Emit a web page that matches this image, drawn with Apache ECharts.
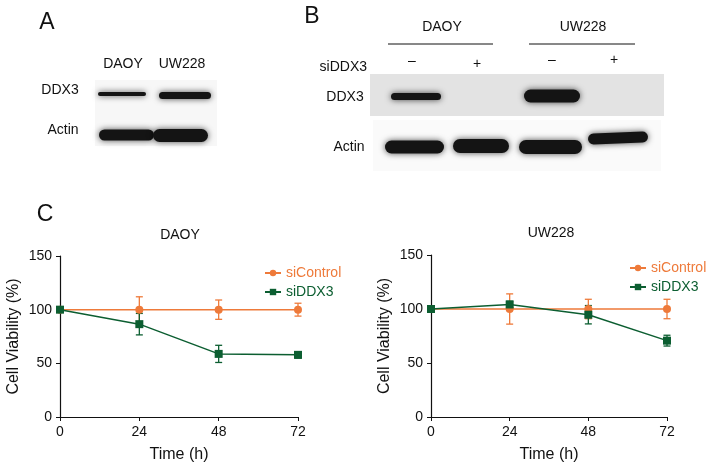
<!DOCTYPE html>
<html>
<head>
<meta charset="utf-8">
<script src="https://cdn.jsdelivr.net/npm/echarts@6/dist/echarts.min.js"></script>
<style>
  html, body { margin: 0; padding: 0; background: #fff; }
  #main { width: 712px; height: 464px; }
</style>
</head>
<body>
<div id="main"></div>
<script>
// time points (h)
const timePoints = [0, 24, 48, 72];
// DAOY viability (%)
const daoyCtrl = [100, 100, 100, 100];
const daoyCtrlErr = [0, 12, 9, 6];
const daoySi = [100, 86.5, 58.8, 57.9];
const daoySiErr = [0, 10, 8, 3];
// UW228 viability (%)
const uwCtrl = [100, 100, 100, 100];
const uwCtrlErr = [0, 14, 9, 9];
const uwSi = [100, 104.2, 94.7, 70.7];
const uwSiErr = [0, 3, 8.5, 5];
const yTicks = [0, 50, 100, 150];

const orange = "#ee7a3a";
const green = "#0c5e31";
const font = "Liberation Sans, Arial, sans-serif";

function pts(vals) {
  return timePoints.map((t, i) => [t, vals[i]]);
}
function errPts(vals, errs) {
  return timePoints.map((t, i) => [t, vals[i] - errs[i], vals[i] + errs[i]]);
}
function errSeries(name, vals, errs, idx, color) {
  return {
    type: "custom",
    name: name,
    xAxisIndex: idx,
    yAxisIndex: idx,
    data: errPts(vals, errs),
    z: 1,
    silent: true,
    renderItem: function (params, api) {
      const lo = api.coord([api.value(0), api.value(1)]);
      const hi = api.coord([api.value(0), api.value(2)]);
      const w = 3.5;
      const st = { stroke: color, lineWidth: 1.3 };
      return {
        type: "group",
        children: [
          { type: "line", shape: { x1: lo[0], y1: lo[1], x2: hi[0], y2: hi[1] }, style: st },
          { type: "line", shape: { x1: lo[0] - w, y1: lo[1], x2: lo[0] + w, y2: lo[1] }, style: st },
          { type: "line", shape: { x1: hi[0] - w, y1: hi[1], x2: hi[0] + w, y2: hi[1] }, style: st },
        ],
      };
    },
  };
}
function lineSeries(name, vals, idx, color, symbol) {
  return {
    type: "line",
    name: name,
    xAxisIndex: idx,
    yAxisIndex: idx,
    data: pts(vals),
    symbol: symbol,
    symbolSize: 8,
    z: 3,
    lineStyle: { color: color, width: 1.5 },
    itemStyle: { color: color },
  };
}
function xAxisCfg(idx) {
  return {
    type: "value",
    gridIndex: idx,
    min: 0,
    max: 72,
    interval: 24,
    name: "Time (h)",
    nameLocation: "middle",
    nameGap: 30,
    nameTextStyle: { fontFamily: font, fontSize: 16, color: "#111" },
    axisLine: { lineStyle: { color: "#111", width: 1.2 } },
    axisTick: { length: 4, lineStyle: { color: "#111" } },
    axisLabel: { fontFamily: font, fontSize: 14, color: "#111", margin: 8 },
    splitLine: { show: false },
  };
}
function yAxisCfg(idx) {
  return {
    type: "value",
    gridIndex: idx,
    min: yTicks[0],
    max: yTicks[yTicks.length - 1],
    interval: 50,
    name: "Cell Viability (%)",
    nameLocation: "middle",
    nameGap: 38,
    nameTextStyle: { fontFamily: font, fontSize: 16, color: "#111" },
    axisLine: { show: true, lineStyle: { color: "#111", width: 1.2 } },
    axisTick: { show: true, length: 4, lineStyle: { color: "#111" } },
    axisLabel: { fontFamily: font, fontSize: 14, color: "#111", margin: 8 },
    splitLine: { show: false },
  };
}
function legendCfg(idx, left, top) {
  return {
    orient: "vertical",
    left: left,
    top: top,
    itemWidth: 16,
    itemHeight: 8,
    itemGap: 5,
    data: [
      { name: "siControl" + idx, textStyle: { color: orange } },
      { name: "siDDX3" + idx, textStyle: { color: green } },
    ],
    formatter: (n) => n.replace(/\d$/, ""),
    textStyle: { fontFamily: font, fontSize: 14 },
    selectedMode: false,
  };
}

// western blot band helper
function band(x, y, w, h, rot) {
  return {
    type: "rect",
    shape: { x: x, y: y - h / 2, width: w, height: h, r: h / 2 },
    rotation: rot || 0,
    originX: x + w / 2,
    originY: y,
    style: { fill: "#141414", shadowBlur: 6, shadowColor: "rgba(0,0,0,0.7)" },
    silent: true,
  };
}
function txt(x, y, s, size, align) {
  return {
    type: "text",
    x: x,
    y: y,
    style: {
      text: s,
      fontFamily: font,
      fontSize: size,
      fill: "#111",
      align: align || "center",
      verticalAlign: "middle",
    },
    silent: true,
  };
}

const blots = [
  // panel A
  txt(47, 23, "A", 23),
  txt(123, 64, "DAOY", 14),
  txt(182, 64, "UW228", 14),
  txt(60, 90, "DDX3", 14),
  txt(63, 130, "Actin", 14),
  {
    type: "rect",
    shape: { x: 95, y: 80, width: 122, height: 66 },
    style: { fill: "#f7f7f7" },
    silent: true,
  },
  band(98, 94, 48, 4),
  band(159, 95.5, 52, 7),
  band(99, 135, 55, 11),
  band(153, 135.5, 55, 13),
  // panel B
  txt(312, 17, "B", 23),
  txt(442, 27, "DAOY", 14),
  txt(583, 27, "UW228", 14),
  { type: "line", shape: { x1: 388, y1: 44, x2: 493, y2: 44 }, style: { stroke: "#111", lineWidth: 1 } },
  { type: "line", shape: { x1: 529, y1: 44, x2: 635, y2: 44 }, style: { stroke: "#111", lineWidth: 1 } },
  txt(367, 67, "siDDX3", 14, "right"),
  txt(412, 61, "\u2013", 14),
  txt(477, 64, "+", 14),
  txt(552, 60, "\u2013", 14),
  txt(614, 60, "+", 14),
  {
    type: "rect",
    shape: { x: 370, y: 74, width: 294, height: 42 },
    style: { fill: "#e3e3e3" },
    silent: true,
  },
  {
    type: "rect",
    shape: { x: 373, y: 120, width: 288, height: 51 },
    style: { fill: "#fafafa" },
    silent: true,
  },
  txt(345, 97, "DDX3", 14),
  txt(349, 147, "Actin", 14),
  band(391, 96.5, 50, 7),
  band(524, 96, 56, 13),
  band(385, 147, 59, 13),
  band(453, 146, 56, 14),
  band(519, 147, 63, 14),
  band(588, 138, 60, 11, 0.04),
  // panel C
  txt(45, 215, "C", 23),
  txt(180, 235, "DAOY", 14),
  txt(551, 233, "UW228", 14),
];

const chart = echarts.init(document.getElementById("main"));
chart.setOption({
  backgroundColor: "#fff",
  animation: false,
  grid: [
    { left: 60, top: 256, width: 238, height: 162 },
    { left: 431, top: 255, width: 236, height: 163 },
  ],
  xAxis: [xAxisCfg(0), xAxisCfg(1)],
  yAxis: [yAxisCfg(0), yAxisCfg(1)],
  legend: [legendCfg(1, 259, 261), legendCfg(2, 624, 256)],
  graphic: blots,
  series: [
    errSeries("errC1", daoyCtrl, daoyCtrlErr, 0, orange),
    errSeries("errS1", daoySi, daoySiErr, 0, green),
    lineSeries("siControl1", daoyCtrl, 0, orange, "circle"),
    lineSeries("siDDX31", daoySi, 0, green, "rect"),
    errSeries("errC2", uwCtrl, uwCtrlErr, 1, orange),
    errSeries("errS2", uwSi, uwSiErr, 1, green),
    lineSeries("siControl2", uwCtrl, 1, orange, "circle"),
    lineSeries("siDDX32", uwSi, 1, green, "rect"),
  ],
});
</script>
</body>
</html>
